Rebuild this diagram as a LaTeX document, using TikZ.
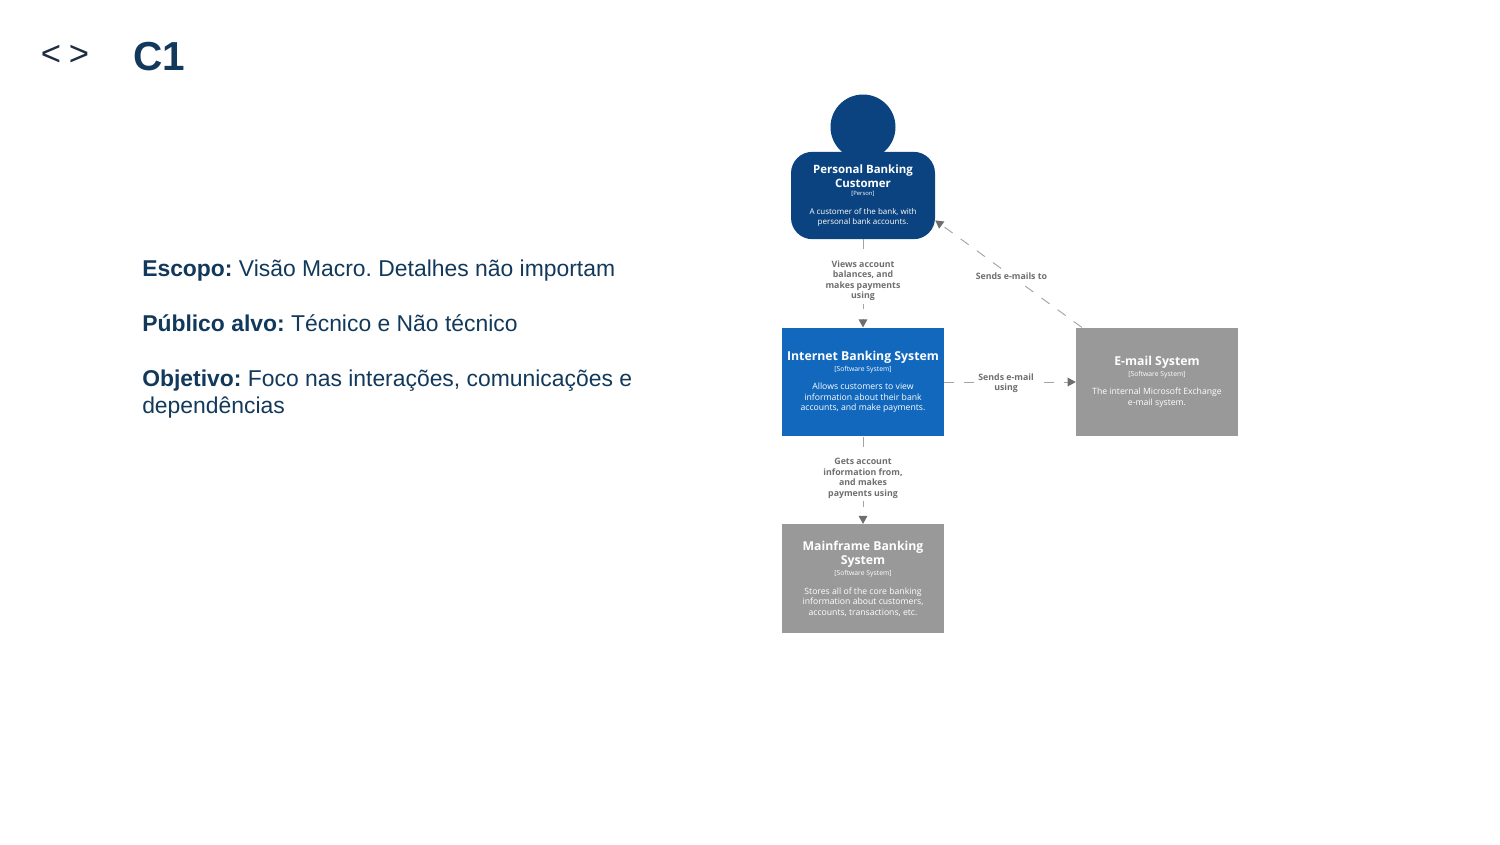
\documentclass[tikz,border=0pt]{standalone}
\usepackage{fontspec}
\setmainfont{Liberation Sans}
\newfontfamily\boxfont{Open Sans}
\usetikzlibrary{arrows.meta}
\frenchspacing
\definecolor{inkblue}{HTML}{12395B}
\definecolor{bracketink}{HTML}{1F2D3D}
\definecolor{personblue}{HTML}{0B4380}
\definecolor{systemblue}{HTML}{1168BD}
\definecolor{extgrey}{HTML}{999999}
\definecolor{relgrey}{HTML}{A3A3A3}
\definecolor{tipgrey}{HTML}{6E6E6E}
\definecolor{lblgrey}{HTML}{6F6F6F}
\newcommand{\boxtitle}[2][9.2]{{\fontsize{#1}{11}\selectfont\bfseries #2\par}}
\newcommand{\boxtag}[2][5.1]{{\fontsize{#1}{8}\selectfont #2\par}\vspace{6pt}}
\newcommand{\boxdesc}[2][6.5]{{\fontsize{#1}{7.9}\selectfont #2\par}}
\tikzset{
  sysbox/.style={rectangle, minimum width=121.5pt, minimum height=81.5pt, text width=121.5pt, inner sep=0pt, text=white, align=flush center, font=\boxfont},
  personbox/.style={sysbox, fill=personblue, rounded corners=16pt, minimum width=108pt, minimum height=65.5pt, text width=108pt},
  rel/.style={draw=relgrey, line width=0.7pt, dash pattern=on 7.5pt off 7.5pt, -{Triangle[length=6pt,width=6.5pt,color=tipgrey]}},
  rellbl/.style={fill=white, inner sep=2pt, text=lblgrey, align=center, font=\boxfont\bfseries\fontsize{6.6}{7.9}\selectfont},
  sidetext/.style={anchor=base west, inner sep=0pt, text=inkblue, font=\fontsize{17.17}{20.5}\selectfont}
}
\begin{document}
\begin{tikzpicture}[x=0.75pt, y=-0.75pt]
\useasboundingbox (0,0) rectangle (1500,844);
\node[inner sep=0pt, text=bracketink, font=\fontsize{26}{30}\selectfont] (brackets) at (65,55){<\hspace{6pt}>};
\node[anchor=base west, inner sep=0pt, text=inkblue, font=\fontsize{30.4}{36}\selectfont\bfseries] (level) at (133,70){C1};
\node[sidetext] (scope) at (142,276){\textbf{Escopo:} Visão Macro. Detalhes não importam};
\node[sidetext] (audience) at (142,331){\textbf{Público alvo:} Técnico e Não técnico};
\node[sidetext] (goal) at (142,386){\textbf{Objetivo:} Foco nas interações, comunicações e};
\node[sidetext] (goalcont) at (142,413){dependências};
\node[circle, fill=personblue, inner sep=0pt, minimum size=48.75pt] (head) at (863,127){};
\node[personbox] (customer) at (863,195.5){\boxtitle[8.6]{Personal Banking\\[-1pt]Customer}\vspace{-1.5pt}\boxtag[4.4]{[Person]}\boxdesc[6]{A customer of the bank, with\\[-0.5pt]personal bank accounts.}};
\node[sysbox, fill=systemblue] (banking) at (863,382){\boxtitle{Internet Banking System}\boxtag{[Software System]}\boxdesc{Allows customers to view\\information about their bank\\accounts, and make payments.}};
\node[sysbox, fill=extgrey] (email) at (1157,382){\boxtitle{E-mail System}\boxtag{[Software System]}\boxdesc{The internal Microsoft Exchange\\e-mail system.}};
\node[sysbox, fill=extgrey] (mainframe) at (863,578.5){\boxtitle{Mainframe Banking\\System}\boxtag{[Software System]}\boxdesc{Stores all of the core banking\\information about customers,\\accounts, transactions, etc.}};
\draw[rel] (customer) -- node[rellbl, pos=0.47]{Views account\\balances, and\\makes payments\\using} (banking);
\draw[rel] (banking) -- node[rellbl, pos=0.47, yshift=-0.75pt]{Sends e-mail\\using} (email);
\draw[rel] (banking) -- node[rellbl, pos=0.48]{Gets account\\information from,\\and makes\\payments using} (mainframe);
\draw[rel] (email.144) -- node[rellbl, pos=0.48]{Sends e-mails to} (customer.-19);
\end{tikzpicture}
\end{document}
